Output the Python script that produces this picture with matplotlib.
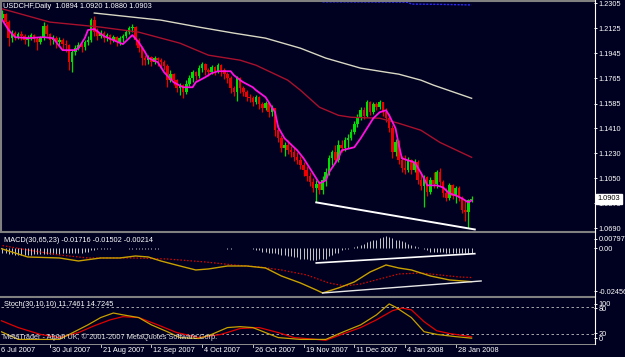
import matplotlib
matplotlib.use("Agg")
import matplotlib.pyplot as plt
import matplotlib.transforms as mtransforms
from matplotlib.lines import Line2D

plt.rcParams['font.family'] = ['Liberation Sans', 'DejaVu Sans']

# ---- price data (USDCHF daily) ----
opens = [1.2155, 1.2198, 1.2227, 1.2169, 1.2054, 1.2090, 1.2061, 1.2083, 1.2069, 1.2040,
         1.2061, 1.2076, 1.2047, 1.2025, 1.2054, 1.2140, 1.2083, 1.2040, 1.2054, 1.2025,
         1.2040, 1.2011, 1.2004, 1.1882, 1.1954, 1.1982, 1.2004, 1.1990, 1.2025, 1.2040,
         1.2183, 1.2097, 1.2069, 1.2090, 1.2054, 1.2076, 1.2040, 1.2061, 1.2025, 1.2054,
         1.2069, 1.2097, 1.2126, 1.2133, 1.2040, 1.1982, 1.1911, 1.1896, 1.1918, 1.1882,
         1.1911, 1.1896, 1.1882, 1.1853, 1.1753, 1.1796, 1.1753, 1.1695, 1.1717, 1.1666,
         1.1724, 1.1767, 1.1810, 1.1781, 1.1839, 1.1868, 1.1824, 1.1810, 1.1846, 1.1817,
         1.1860, 1.1824, 1.1796, 1.1767, 1.1695, 1.1666, 1.1767, 1.1695, 1.1666, 1.1631,
         1.1623, 1.1595, 1.1631, 1.1580, 1.1552, 1.1587, 1.1523, 1.1552, 1.1394, 1.1336,
         1.1264, 1.1286, 1.1250, 1.1236, 1.1200, 1.1178, 1.1142, 1.1106, 1.1063, 1.1020,
         1.0977, 1.1006, 1.0963, 1.1035, 1.1092, 1.1193, 1.1236, 1.1178, 1.1286, 1.1264,
         1.1322, 1.1336, 1.1379, 1.1437, 1.1487, 1.1537, 1.1494, 1.1595, 1.1523, 1.1580,
         1.1559, 1.1595, 1.1523, 1.1480, 1.1408, 1.1236, 1.1307, 1.1178, 1.1121, 1.1106,
         1.1178, 1.1106, 1.1164, 1.1035, 1.0992, 1.1056, 1.0948, 1.1035, 1.1006, 1.1092,
         1.1020, 1.0941, 1.0905, 1.0999, 1.0920, 1.0977, 1.0905, 1.0819, 1.0805, 1.0894]
highs = [1.2219, 1.2255, 1.2234, 1.2183, 1.2112, 1.2104, 1.2097, 1.2104, 1.2083, 1.2076,
         1.2090, 1.2083, 1.2061, 1.2069, 1.2169, 1.2155, 1.2090, 1.2076, 1.2069, 1.2061,
         1.2054, 1.2040, 1.2011, 1.1968, 1.2004, 1.2025, 1.2018, 1.2040, 1.2069, 1.2198,
         1.2212, 1.2126, 1.2112, 1.2104, 1.2090, 1.2083, 1.2076, 1.2069, 1.2069, 1.2083,
         1.2112, 1.2140, 1.2155, 1.2140, 1.2054, 1.1997, 1.1932, 1.1932, 1.1925, 1.1925,
         1.1918, 1.1911, 1.1896, 1.1868, 1.1824, 1.1803, 1.1760, 1.1731, 1.1724, 1.1753,
         1.1789, 1.1824, 1.1817, 1.1860, 1.1882, 1.1875, 1.1839, 1.1860, 1.1853, 1.1875,
         1.1868, 1.1839, 1.1810, 1.1781, 1.1710, 1.1781, 1.1774, 1.1710, 1.1681, 1.1652,
         1.1638, 1.1645, 1.1638, 1.1595, 1.1602, 1.1595, 1.1573, 1.1552, 1.1430, 1.1358,
         1.1307, 1.1322, 1.1279, 1.1264, 1.1236, 1.1207, 1.1164, 1.1135, 1.1092, 1.1049,
         1.1035, 1.1027, 1.1063, 1.1121, 1.1214, 1.1250, 1.1286, 1.1322, 1.1322, 1.1343,
         1.1365, 1.1401, 1.1458, 1.1508, 1.1559, 1.1559, 1.1609, 1.1602, 1.1595, 1.1595,
         1.1609, 1.1595, 1.1552, 1.1508, 1.1430, 1.1329, 1.1322, 1.1207, 1.1214, 1.1200,
         1.1185, 1.1185, 1.1178, 1.1092, 1.1071, 1.1063, 1.1056, 1.1092, 1.1106, 1.1121,
         1.1035, 1.0977, 1.1013, 1.1006, 1.0992, 1.0992, 1.0920, 1.0891, 1.0898, 1.0920]
lows = [1.2148, 1.2183, 1.2155, 1.1997, 1.2025, 1.2040, 1.2047, 1.2040, 1.2011, 1.1997,
        1.2040, 1.2025, 1.1968, 1.2011, 1.2040, 1.2069, 1.2004, 1.2011, 1.1982, 1.2004,
        1.1968, 1.1954, 1.1824, 1.1810, 1.1932, 1.1968, 1.1954, 1.1968, 1.2004, 1.2025,
        1.2069, 1.2040, 1.2054, 1.2025, 1.2033, 1.2011, 1.2025, 1.1997, 1.2004, 1.2025,
        1.2054, 1.2083, 1.2097, 1.2004, 1.1954, 1.1860, 1.1860, 1.1868, 1.1853, 1.1868,
        1.1853, 1.1839, 1.1824, 1.1702, 1.1738, 1.1717, 1.1666, 1.1645, 1.1623, 1.1652,
        1.1710, 1.1738, 1.1753, 1.1767, 1.1810, 1.1789, 1.1781, 1.1796, 1.1789, 1.1803,
        1.1781, 1.1760, 1.1731, 1.1659, 1.1638, 1.1602, 1.1659, 1.1638, 1.1602, 1.1595,
        1.1566, 1.1580, 1.1544, 1.1523, 1.1537, 1.1487, 1.1494, 1.1351, 1.1307, 1.1236,
        1.1207, 1.1221, 1.1200, 1.1171, 1.1150, 1.1114, 1.1063, 1.1027, 1.0992, 1.0948,
        1.0877, 1.0934, 1.0934, 1.0992, 1.1071, 1.1142, 1.1157, 1.1164, 1.1236, 1.1243,
        1.1264, 1.1322, 1.1365, 1.1415, 1.1465, 1.1473, 1.1487, 1.1501, 1.1508, 1.1537,
        1.1544, 1.1494, 1.1451, 1.1379, 1.1193, 1.1207, 1.1150, 1.1092, 1.1078, 1.1092,
        1.1078, 1.1092, 1.1006, 1.0963, 1.0841, 1.0920, 1.0934, 1.0977, 1.0977, 1.0992,
        1.0913, 1.0884, 1.0891, 1.0898, 1.0870, 1.0884, 1.0798, 1.0747, 1.0697, 1.0880]
closes = [1.2198, 1.2227, 1.2169, 1.2054, 1.2090, 1.2061, 1.2083, 1.2069, 1.2040, 1.2061,
          1.2076, 1.2047, 1.2025, 1.2054, 1.2140, 1.2083, 1.2040, 1.2054, 1.2025, 1.2040,
          1.2011, 1.2004, 1.1882, 1.1954, 1.1982, 1.2004, 1.1990, 1.2025, 1.2040, 1.2183,
          1.2097, 1.2069, 1.2090, 1.2054, 1.2076, 1.2040, 1.2061, 1.2025, 1.2054, 1.2069,
          1.2097, 1.2126, 1.2133, 1.2040, 1.1982, 1.1911, 1.1896, 1.1918, 1.1882, 1.1911,
          1.1896, 1.1882, 1.1853, 1.1753, 1.1796, 1.1753, 1.1695, 1.1717, 1.1666, 1.1724,
          1.1767, 1.1810, 1.1781, 1.1839, 1.1868, 1.1824, 1.1810, 1.1846, 1.1817, 1.1860,
          1.1824, 1.1796, 1.1767, 1.1695, 1.1666, 1.1767, 1.1695, 1.1666, 1.1631, 1.1623,
          1.1595, 1.1631, 1.1580, 1.1552, 1.1587, 1.1523, 1.1552, 1.1394, 1.1336, 1.1264,
          1.1286, 1.1250, 1.1236, 1.1200, 1.1178, 1.1142, 1.1106, 1.1063, 1.1020, 1.0977,
          1.1006, 1.0963, 1.1035, 1.1092, 1.1193, 1.1236, 1.1178, 1.1286, 1.1264, 1.1322,
          1.1336, 1.1379, 1.1437, 1.1487, 1.1537, 1.1494, 1.1595, 1.1523, 1.1580, 1.1559,
          1.1595, 1.1523, 1.1480, 1.1408, 1.1236, 1.1307, 1.1178, 1.1121, 1.1106, 1.1178,
          1.1106, 1.1164, 1.1035, 1.0992, 1.1056, 1.0948, 1.1035, 1.1006, 1.1092, 1.1020,
          1.0941, 1.0905, 1.0999, 1.0920, 1.0977, 1.0905, 1.0819, 1.0805, 1.0891, 1.0903]

# moving averages, read at sample bars
ma_fast_bars = [1, 3, 5, 9, 14, 17, 20, 24, 25, 27, 28, 30, 33, 39, 42, 44, 46, 47, 50, 52,
                55, 58, 61, 62, 65, 67, 69, 73, 74, 76, 77, 80, 81, 84, 87, 88, 90, 94, 96, 100,
                101, 103, 104, 107, 108, 112, 114, 116, 118, 120, 122, 123, 125, 126, 127, 129,
                131, 132, 134, 135, 138, 140, 142, 144, 146, 148, 149]
ma_fast = [1.2183, 1.2112, 1.2061, 1.2054, 1.2061, 1.2054, 1.1968, 1.1968, 1.1982, 1.2054,
           1.2112, 1.2119, 1.2069, 1.2011, 1.2076, 1.2025, 1.1954, 1.1911, 1.1882, 1.1810,
           1.1738, 1.1702, 1.1702, 1.1738, 1.1774, 1.1803, 1.1817, 1.1817, 1.1789, 1.1753,
           1.1738, 1.1702, 1.1681, 1.1631, 1.1523, 1.1415, 1.1336, 1.1250, 1.1193, 1.1049,
           1.1013, 1.1035, 1.1092, 1.1193, 1.1250, 1.1272, 1.1336, 1.1408, 1.1480, 1.1523,
           1.1537, 1.1501, 1.1408, 1.1293, 1.1193, 1.1178, 1.1164, 1.1128, 1.1049, 1.0999,
           1.0999, 1.0984, 1.0941, 1.0927, 1.0905, 1.0877, 1.0891]
ma_mid_bars = [0, 16, 32, 44, 57, 66, 76, 81, 91, 95, 101, 107, 111, 120, 126, 133, 139, 149]
ma_mid = [1.2270, 1.2169, 1.2133, 1.2097, 1.2018, 1.1932, 1.1896, 1.1860, 1.1753, 1.1681,
          1.1559, 1.1501, 1.1487, 1.1480, 1.1444, 1.1394, 1.1307, 1.1200]
ma_slow_bars = [30, 51, 63, 74, 84, 95, 103, 114, 122, 126, 133, 137, 149]
ma_slow = [1.2234, 1.2183, 1.2133, 1.2090, 1.2054, 1.1982, 1.1911, 1.1839, 1.1810, 1.1796,
           1.1753, 1.1717, 1.1623]
ma_top_bars = [102, 107, 127, 129, 130, 139, 149]
ma_top = [1.2314, 1.2314, 1.2312, 1.2311, 1.2298, 1.2296, 1.2292]

# MACD(30,65,23)
macd_bars = [0, 9, 19, 25, 32, 38, 43, 47, 51, 57, 62, 66, 72, 78, 84, 89, 95, 100, 102, 107,
             112, 117, 122, 126, 130, 136, 142, 149]
macd_main = [0.00023, -0.00441, -0.00493, -0.00648, -0.00493, -0.00493, -0.00390, -0.00441,
             -0.00648, -0.00906, -0.01112, -0.01060, -0.00906, -0.00906, -0.01009, -0.01422,
             -0.01783, -0.02144, -0.02299, -0.02041, -0.01731, -0.01215, -0.00854, -0.01009,
             -0.01112, -0.01422, -0.01628, -0.01716]
signal_bars = [0, 9, 19, 28, 42, 53, 65, 74, 82, 89, 97, 104, 109, 114, 120, 126, 133, 139, 145, 149]
macd_signal = [0.00178, -0.00080, -0.00338, -0.00493, -0.00493, -0.00545, -0.00699, -0.00854,
               -0.00957, -0.01112, -0.01370, -0.01783, -0.01938, -0.01835, -0.01577, -0.01319,
               -0.01267, -0.01370, -0.01473, -0.01502]
macd_hist = [-0.0016, -0.0021, -0.0026, -0.0031, -0.0031, -0.0036, -0.0036, -0.0036, -0.0036, -0.0036,
             -0.0036, -0.0031, -0.0031, -0.0031, -0.0031, -0.0031, -0.0031, -0.0031, -0.0031, -0.0031,
             -0.0026, -0.0026, -0.0026, -0.0026, -0.0021, -0.0021, -0.0021, -0.0016, -0.0016, -0.0010,
             -0.0010, -0.0005, -0.0005, -0.0004, -0.0004, -0.0003, 0.0, 0.0, 0.0, 0.0,
             0.0, -0.0004, -0.0004, -0.0004, -0.0004, -0.0004, -0.0004, -0.0004, -0.0004, -0.0004,
             -0.0003, 0.0, 0.0, 0.0, 0.0, 0.0, 0.0, 0.0, 0.0, 0.0,
             0.0, 0.0, 0.0, 0.0, 0.0, 0.0, 0.0, 0.0, 0.0, 0.0,
             0.0, 0.0, -0.0004, -0.0004, 0.0, 0.0, 0.0, 0.0, 0.0, 0.0,
             -0.0005, -0.0010, -0.0010, -0.0016, -0.0016, -0.0021, -0.0026, -0.0026, -0.0031, -0.0036,
             -0.0036, -0.0041, -0.0041, -0.0046, -0.0046, -0.0052, -0.0052, -0.0057, -0.0062, -0.0062,
             -0.0062, -0.0057, -0.0057, -0.0052, -0.0041, -0.0036, -0.0026, -0.0021, -0.0010, -0.0005,
             -0.0005, 0.0, 0.0005, 0.0010, 0.0016, 0.0021, 0.0031, 0.0036, 0.0041, 0.0046,
             0.0052, 0.0057, 0.0062, 0.0057, 0.0052, 0.0046, 0.0041, 0.0036, 0.0031, 0.0021,
             0.0016, 0.0010, 0.0005, 0.0, -0.0005, -0.0010, -0.0016, -0.0016, -0.0016, -0.0016,
             -0.0016, -0.0021, -0.0021, -0.0021, -0.0021, -0.0021, -0.0021, -0.0021, -0.0021, -0.0021]

# Stochastic(30,10,10)
stoch_main_bars = [0, 6, 19, 28, 32, 36, 39, 44, 48, 53, 57, 63, 67, 72, 76, 80, 84, 88, 95, 103,
                   108, 114, 119, 123, 125, 130, 134, 138, 144, 149]
stoch_main = [28, 9, 9, 41, 57, 67, 63, 57, 41, 26, 13, 11, 20, 35, 37, 35, 24, 13, 9, 9,
              24, 41, 63, 87, 80, 57, 26, 20, 15, 11.7461]
stoch_sig_bars = [0, 6, 13, 19, 25, 30, 35, 39, 44, 50, 56, 63, 70, 76, 82, 88, 93, 100, 103, 108,
                  114, 119, 124, 127, 130, 134, 138, 142, 149]
stoch_signal = [52, 35, 20, 13, 24, 39, 52, 59, 57, 41, 24, 13, 20, 33, 35, 24, 13, 9, 7, 20,
                35, 52, 72, 78, 74, 48, 28, 22, 14.7245]

# hand-drawn trend lines (bar, value)
trend_price = ([100, 150], [1.0877, 1.0683])
trend_hist = ([100, 150], [-0.0075, -0.0027])
trend_macd = ([102, 152], [-0.0230, -0.0168])

date_bars = [0, 16, 32, 48, 64, 80, 96, 112, 128, 144]
date_labels = ['6 Jul 2007', '30 Jul 2007', '21 Aug 2007', '12 Sep 2007', '4 Oct 2007',
               '26 Oct 2007', '19 Nov 2007', '11 Dec 2007', '4 Jan 2008', '28 Jan 2008']
price_ticks = [1.2305, 1.2125, 1.1945, 1.1765, 1.1585, 1.1410, 1.1230, 1.1050, 1.0870, 1.0690]

W, H = 625, 357
BG = '#000020'
UP, DOWN = '#00e000', '#ee0000'
FS = 5.3

fig = plt.figure(figsize=(W / 100, H / 100), dpi=100, facecolor=BG)


def panel(top, bottom):
    ax = fig.add_axes([1 / W, 1 - bottom / H, 593 / W, (bottom - top) / H])
    ax.set_facecolor(BG)
    for s in ax.spines.values():
        s.set_visible(False)
    ax.set_xlim(0.57, 187.6)
    ax.set_xticks([])
    ax.yaxis.tick_right()
    ax.tick_params(axis='y', colors='white', length=2, width=0.7, labelsize=FS, pad=1.2)
    return ax


ax = panel(2, 231)
ax_m = panel(233, 296)
ax_s = panel(298, 343.5)

# ---- main chart ----
ax.set_ylim(1.0672, 1.2313)
bars = list(range(len(closes)))
for b in bars:
    o, c = opens[b], closes[b]
    col = UP if c >= o else DOWN
    ax.vlines(b, lows[b], highs[b], color=col, lw=0.9)
    h = c - o if abs(c - o) > 0.0003 else 0.0003
    ax.bar(b, h, bottom=o, width=0.8, color=col, linewidth=0)

ax.plot(ma_slow_bars, ma_slow, color='#d8d8c4', lw=1.0)
ax.plot(ma_mid_bars, ma_mid, color='#a8102c', lw=1.0)
ax.plot(ma_fast_bars, ma_fast, color='#ff10e0', lw=1.3)
ax.plot(ma_top_bars, ma_top, color='#2a2aff', lw=1.0, ls=(0, (1.5, 1)), clip_on=False)
ax.plot(*trend_price, color='white', lw=1.4)

ax.set_yticks(price_ticks)
ax.set_yticklabels(['%.4f' % p for p in price_ticks])
ax.text(1.006, closes[-1], '%.4f' % closes[-1], transform=ax.get_yaxis_transform(),
        color='black', fontsize=FS, va='center', ha='left', zorder=5,
        bbox=dict(boxstyle='square,pad=0.18', fc='white', ec='white'))
fig.text(3 / W, 1 - 7 / H, 'USDCHF,Daily  1.0894 1.0920 1.0880 1.0903',
         color='white', fontsize=FS, va='center', ha='left')

# ---- MACD ----
ax_m.set_ylim(-0.02456, 0.00797)
ax_m.vlines(bars, 0, macd_hist, color='#c8c8c8', lw=0.7)
ax_m.plot(signal_bars, macd_signal, color='#e00000', lw=0.9, ls=(0, (1.2, 1.5)))
ax_m.plot(macd_bars, macd_main, color='#c8a000', lw=1.0)
ax_m.plot(*trend_hist, color='white', lw=1.2)
ax_m.plot(*trend_macd, color='#e8e8e8', lw=1.0)
ax_m.set_yticks([0.0049, 0.0, -0.0220])
ax_m.set_yticklabels(['0.00797', '0.00', '-0.02456'])
fig.text(4 / W, 1 - 240.5 / H, 'MACD(30,65,23) -0.01716 -0.01502 -0.00214',
         color='white', fontsize=FS, va='center', ha='left')

# ---- Stochastic ----
ax_s.set_ylim(0, 100)
for lvl in (20, 80):
    ax_s.axhline(lvl, color='#c0c0c0', lw=0.6, ls=(0, (3, 3)))
ax_s.plot(stoch_sig_bars, stoch_signal, color='#e00000', lw=0.9)
ax_s.plot(stoch_main_bars, stoch_main, color='#c8a000', lw=0.9)
ax_s.set_yticks([87, 78, 22, 11.5])
ax_s.set_yticklabels(['100', '80', '20', '0'])
fig.text(4 / W, 1 - 305 / H, 'Stoch(30,10,10) 11.7461 14.7245',
         color='white', fontsize=FS, va='center', ha='left')
fig.text(3 / W, 1 - 337.5 / H, 'MetaTrader - Alpari UK, \u00a9 2001-2007 MetaQuotes Software Corp.',
         color='#e0e0e0', fontsize=FS, va='center', ha='left')

# date axis under the last panel
lab_tr = mtransforms.offset_copy(ax_s.get_xaxis_transform(), fig=fig, x=2, y=-7, units='dots')
for b, lab in zip(date_bars, date_labels):
    ax_s.text(b, 0, lab, transform=lab_tr, color='white', fontsize=FS,
              va='center', ha='left', clip_on=False)
    ax_s.add_line(Line2D([b, b], [0, -0.07], transform=ax_s.get_xaxis_transform(),
                         color='#c0c0c0', lw=0.7, clip_on=False))

# window frame: grey borders and separators, white price-axis line
def hline(y, col='#808080', lw=1.5):
    fig.add_artist(Line2D([0, 594.5 / W], [1 - y / H] * 2, color=col, lw=lw))

hline(1)
hline(231.8)
hline(297.2)
hline(343.8, col='#909090', lw=0.7)
fig.add_artist(Line2D([1 / W] * 2, [1 - 231 / H, 1], color='#808080', lw=1.5))
fig.add_artist(Line2D([594.5 / W] * 2, [1 - 344 / H, 1], color='white', lw=0.8))

fig.savefig('out.png', dpi=100, facecolor=BG)
